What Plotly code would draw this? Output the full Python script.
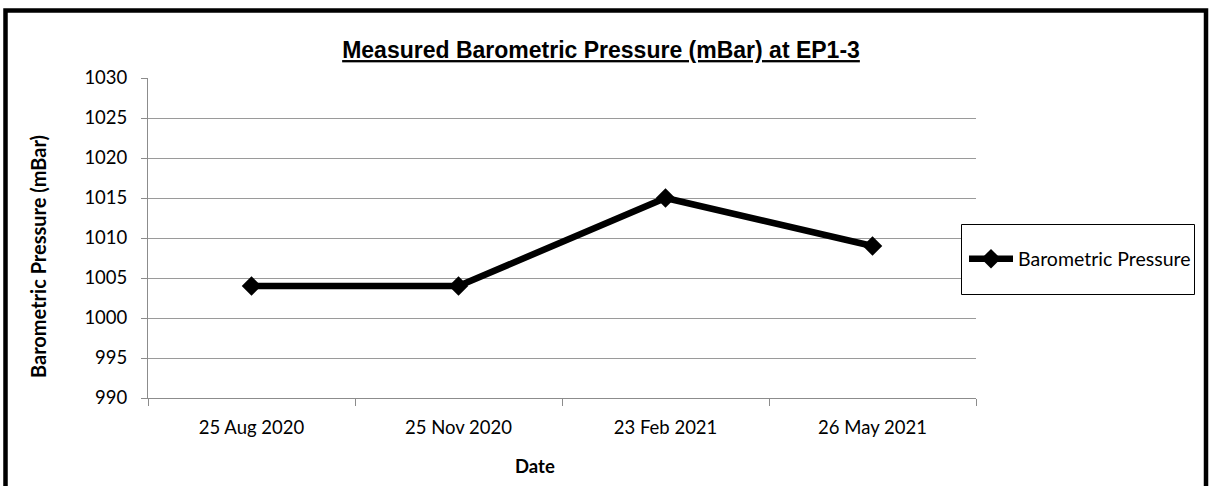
import plotly.graph_objects as go

dates = ["25 Aug 2020", "25 Nov 2020", "23 Feb 2021", "26 May 2021"]
pressure = [1004, 1004, 1015, 1009]
y_ticks = [990, 995, 1000, 1005, 1010, 1015, 1020, 1025, 1030]

W, H = 1210, 486
L, R, T, B = 148, 976, 78, 398  # plot area in pixels


def px_x(x):
    return (x - L) / (R - L)


def px_y(y):
    return (B - y) / (B - T)


fig = go.Figure()

fig.add_trace(
    go.Scatter(
        x=dates,
        y=pressure,
        mode="lines+markers",
        name="Barometric Pressure",
        line=dict(color="black", width=6.5),
        marker=dict(symbol="diamond", size=15, color="black"),
    )
)

fig.update_layout(
    width=W,
    height=H,
    paper_bgcolor="white",
    plot_bgcolor="white",
    margin=dict(l=L, r=W - R, t=T, b=H - B),
    font=dict(family="Lato", size=18.5, color="black"),
    title=dict(
        text="<u>Measured Barometric Pressure (mBar) at EP1-3</u>",
        x=601 / W,
        xanchor="center",
        y=1 - 50 / H,
        yanchor="middle",
        font=dict(family="Liberation Sans", size=23, color="black", weight="bold"),
    ),
    showlegend=True,
    legend=dict(
        x=px_x(964),
        y=px_y(259),
        xanchor="left",
        yanchor="middle",
        bgcolor="rgba(0,0,0,0)",
        borderwidth=0,
        font=dict(family="Lato", size=19.5, color="black"),
        itemwidth=44,
    ),
)

fig.update_xaxes(
    type="category",
    range=[-0.5, 3.5],
    tickson="boundaries",
    ticks="outside",
    ticklen=7,
    tickcolor="#8c8c8c",
    showline=True,
    linecolor="#8c8c8c",
    linewidth=1,
    showgrid=False,
    ticklabelstandoff=13,
)

fig.update_yaxes(
    range=[990, 1030],
    tickvals=y_ticks,
    ticks="outside",
    ticklen=6,
    tickcolor="#8c8c8c",
    showline=True,
    linecolor="#8c8c8c",
    linewidth=1,
    gridcolor="#9a9a9a",
    gridwidth=1,
    zeroline=False,
    ticklabelstandoff=10,
)

fig.add_annotation(
    text="<b>Barometric Pressure (mBar)</b>",
    x=px_x(38),
    y=px_y(257),
    xref="paper",
    yref="paper",
    xanchor="center",
    yanchor="middle",
    textangle=-90,
    showarrow=False,
    font=dict(family="Lato", size=20, color="black"),
)

fig.add_annotation(
    text="<b>Date</b>",
    x=px_x(535),
    y=px_y(466),
    xref="paper",
    yref="paper",
    xanchor="center",
    yanchor="middle",
    showarrow=False,
    font=dict(family="Lato", size=18.5, color="black"),
)

# legend frame
fig.add_shape(
    type="rect",
    xref="paper",
    yref="paper",
    x0=px_x(961.5),
    x1=px_x(1194.5),
    y0=px_y(294.5),
    y1=px_y(224.5),
    line=dict(color="black", width=1),
    fillcolor="white",
    layer="above",
)

# outer chart border
fig.add_shape(
    type="rect",
    xref="paper",
    yref="paper",
    x0=px_x(5.5),
    x1=px_x(1206),
    y0=px_y(520),
    y1=px_y(10.5),
    line=dict(color="black", width=4.5),
    layer="above",
)

fig.write_html(
    "out.html",
    config={"displayModeBar": False},
    post_script="document.body.style.margin='0';document.body.style.overflow='hidden';",
)
